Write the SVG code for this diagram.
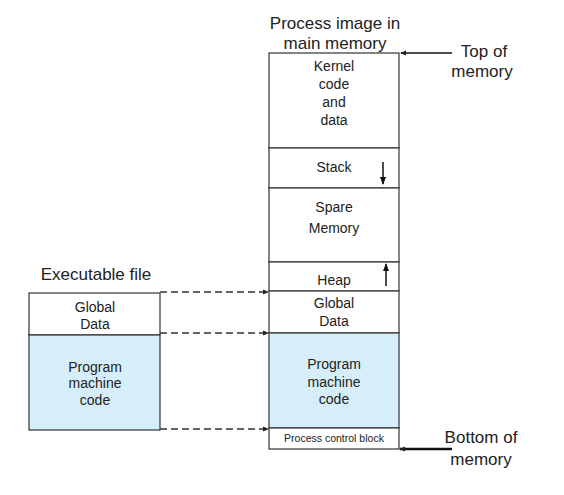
<svg xmlns="http://www.w3.org/2000/svg" width="564" height="495" viewBox="0 0 564 495">
<defs>
<marker id="ah" markerWidth="6" markerHeight="6" refX="5" refY="3" orient="auto" markerUnits="userSpaceOnUse"><path d="M0,0.5 L6,3 L0,5.5 Z" fill="#222"/></marker>
<marker id="ah2" markerWidth="8" markerHeight="8" refX="7" refY="4" orient="auto" markerUnits="userSpaceOnUse"><path d="M0,1 L8,4 L0,7 Z" fill="#111"/></marker>
<style>
text{font-family:"Liberation Sans",Arial,sans-serif;fill:#222;text-anchor:middle}
.t{font-size:14px}
.h{font-size:17px}
.box{stroke:#333;stroke-width:1.2}
.w{fill:#fff}
.b{fill:#d6eef9}
.dash{stroke:#333;stroke-width:1.5;stroke-dasharray:7,4;fill:none}
.arr{stroke:#111;stroke-width:1.5;fill:none}
</style>
</defs>
<rect width="564" height="495" fill="#fff"/>
<text class="h" x="335" y="29">Process image in</text>
<text class="h" x="335" y="49">main memory</text>
<text class="h" x="484" y="57">Top of</text>
<text class="h" x="482" y="77">memory</text>
<text class="h" x="481" y="443">Bottom of</text>
<text class="h" x="481" y="465">memory</text>
<text class="h" x="96" y="280">Executable file</text>
<g id="kernel"><rect class="box w" x="269" y="53" width="130" height="95"/><text class="t" x="334" y="71">Kernel</text><text class="t" x="334" y="89">code</text><text class="t" x="334" y="107">and</text><text class="t" x="334" y="125">data</text></g>
<g id="stack"><rect class="box w" x="269" y="148" width="130" height="40"/><text class="t" x="334" y="172">Stack</text><line class="arr" x1="383" y1="162" x2="383" y2="184" marker-end="url(#ah2)"/></g>
<g id="spare"><rect class="box w" x="269" y="188" width="130" height="74"/><text class="t" x="334" y="212">Spare</text><text class="t" x="334" y="233">Memory</text></g>
<g id="heap"><rect class="box w" x="269" y="262" width="130" height="29"/><text class="t" x="334" y="285">Heap</text><line class="arr" x1="386" y1="286" x2="386" y2="264" marker-end="url(#ah2)"/></g>
<g id="rglobal"><rect class="box w" x="269" y="291" width="130" height="42"/><text class="t" x="334" y="308">Global</text><text class="t" x="334" y="326">Data</text></g>
<g id="rprog"><rect class="box b" x="269" y="333" width="130" height="95"/><text class="t" x="334" y="369">Program</text><text class="t" x="334" y="387">machine</text><text class="t" x="334" y="404">code</text></g>
<g id="pcb"><rect class="box w" x="269" y="428" width="130" height="21"/><text x="334" y="442" style="font-size:10.5px">Process control block</text></g>
<g id="lglobal"><rect class="box w" x="29" y="293" width="131" height="42"/><text class="t" x="95" y="312">Global</text><text class="t" x="95" y="329">Data</text></g>
<g id="lprog"><rect class="box b" x="29" y="335" width="131" height="95"/><text class="t" x="95" y="372">Program</text><text class="t" x="95" y="388">machine</text><text class="t" x="95" y="405">code</text></g>
<g id="connectors">
<line class="dash" x1="160" y1="292" x2="268" y2="292" marker-end="url(#ah)"/>
<line class="dash" x1="160" y1="333" x2="268" y2="333" marker-end="url(#ah)"/>
<line class="dash" x1="160" y1="429" x2="268" y2="429" marker-end="url(#ah)"/>
<line class="arr" x1="452" y1="53" x2="401" y2="53" marker-end="url(#ah)"/>
<line class="arr" x1="452" y1="449" x2="400" y2="449" marker-end="url(#ah)" style="stroke-width:2.5"/>
</g>
</svg>
